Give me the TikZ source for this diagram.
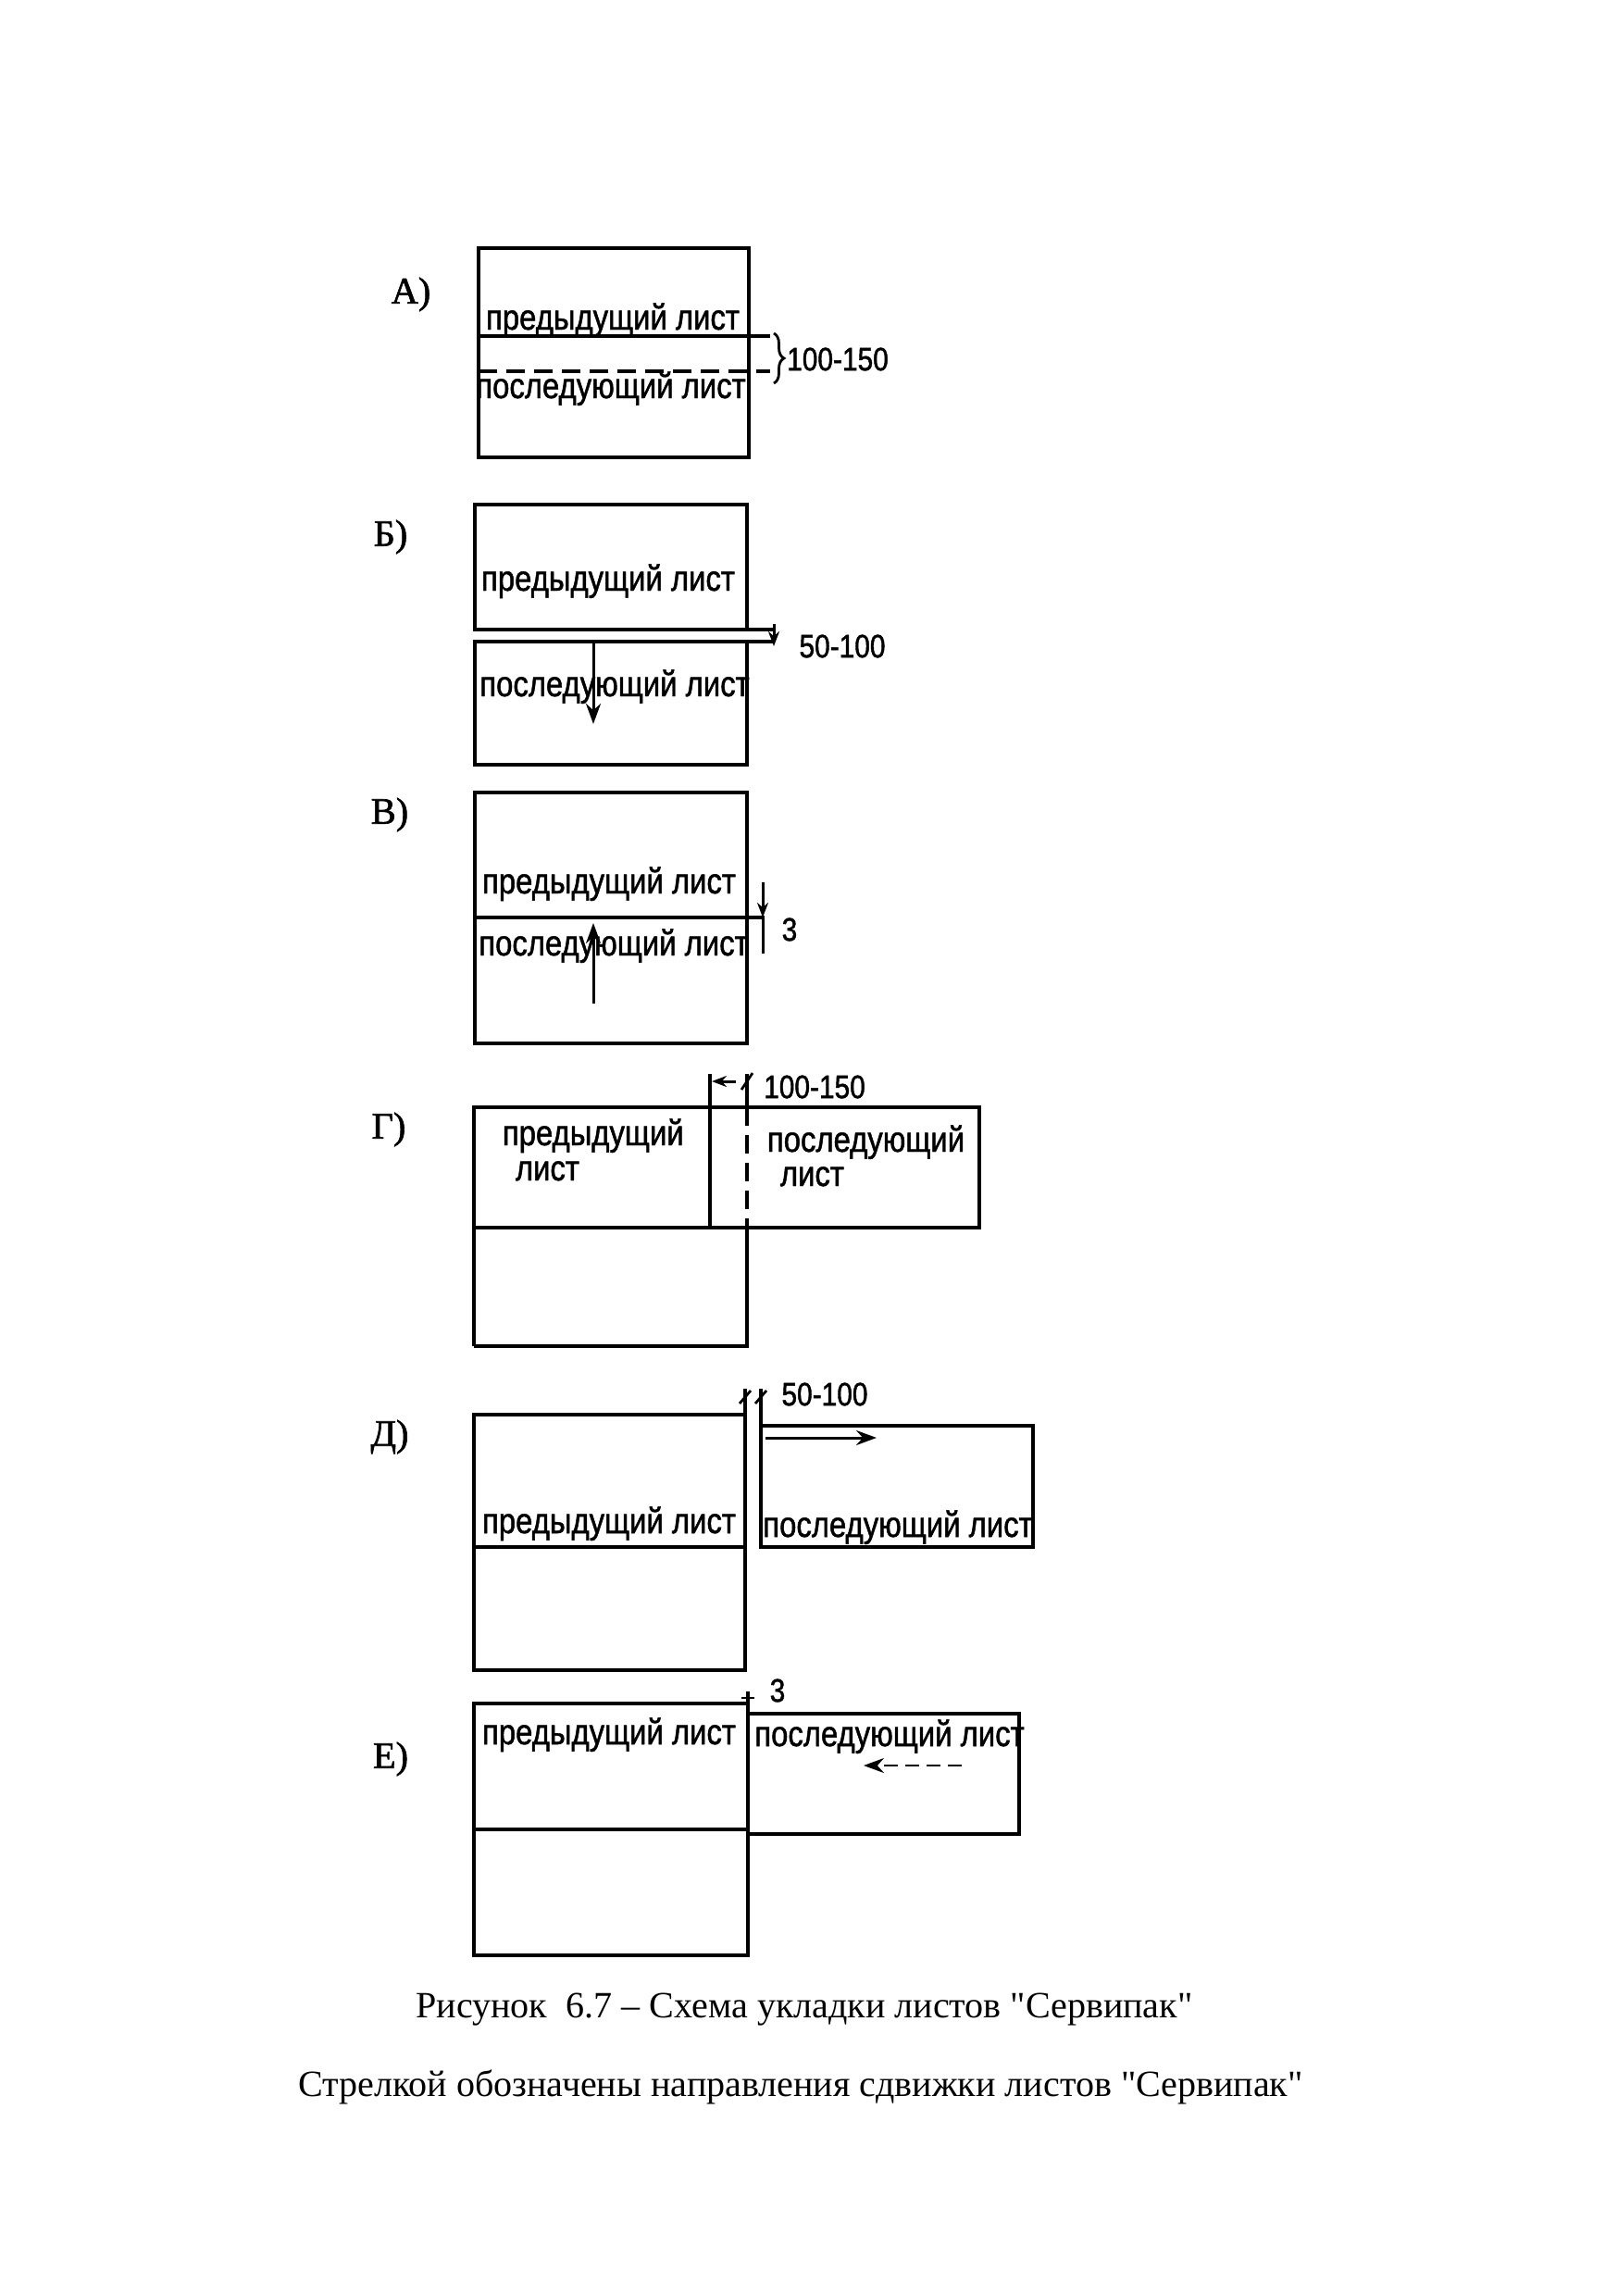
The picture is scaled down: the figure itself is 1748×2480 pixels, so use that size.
\documentclass[tikz,border=0pt]{standalone}
\usepackage{fontspec}
\setmainfont{Liberation Serif}[Ligatures=TeXOff]
\newfontfamily\lblfont[FakeStretch=0.85,FakeBold=1.2]{Liberation Sans}
\newfontfamily\panelfont[FakeBold=1.5]{Liberation Serif}
\usetikzlibrary{arrows.meta,decorations.pathreplacing}
\begin{document}
\begin{tikzpicture}[x=0.1mm,y=-0.1mm,line width=0.38mm,
  sheettext/.style={font=\lblfont\fontsize{11}{13}\selectfont,inner sep=0pt},
  dimtext/.style={font=\lblfont\fontsize{10}{12}\selectfont,inner sep=0pt},
  panellabel/.style={font=\panelfont\fontsize{11.5}{13}\selectfont,inner sep=0pt},
  captiontext/.style={font=\fontsize{11.4}{14}\selectfont,inner sep=0pt},
  dashline/.style={dash pattern=on 2mm off 1mm},
  shiftarrow/.style={line width=0.3mm,-{Stealth[length=2.2mm,width=1.6mm]}},
  dimarrow/.style={line width=0.3mm,-{Stealth[length=1.6mm,width=1.2mm]}}]
\fill[white] (0,0) rectangle (1748,2480);
\useasboundingbox (0,0) rectangle (1748,2480);

% ---------- A ----------
\node[panellabel] (la) at (444,318) {А)};
\draw (517,268) rectangle (809,494);
\draw (517,363) -- (832,363);
\draw[dashline] (517,401) -- (832,401);
\draw[line width=0.28mm,decorate,decoration={brace,amplitude=1.1mm}] (836,360) -- (836,414);
\node[sheettext,anchor=base] (a1) at (662,356) {предыдущий лист};
\node[sheettext,anchor=base] (a2) at (660,430) {последующий лист};
\node[dimtext] (ad) at (905,388) {100-150};

% ---------- Б ----------
\node[panellabel] (lb) at (422,580) {Б)};
\draw (513,545) rectangle (807,680);
\draw (513,693) rectangle (807,826);
\draw (807,680) -- (836,680);
\draw (807,693) -- (836,693);
\coordinate (bd1) at (836,674);
\coordinate (bd2) at (836,698);
\draw[dimarrow] (bd1) -- (bd2);
\node[sheettext,anchor=base] (b1) at (657,638) {предыдущий лист};
\node[sheettext,anchor=base] (b2) at (664,752) {последующий лист};
\node[dimtext] (bd) at (910,698) {50-100};
\coordinate (bs1) at (641,693);
\coordinate (bs2) at (641,782);
\draw[shiftarrow] (bs1) -- (bs2);

% ---------- В ----------
\node[panellabel] (lv) at (421,880) {В)};
\draw (513,856) rectangle (807,1127);
\draw (513,991) -- (826,991);
\coordinate (vd1) at (824,953);
\coordinate (vd2) at (824,1030);
\coordinate (vd3) at (824,991);
\draw[line width=0.3mm] (vd3) -- (vd2);
\draw[dimarrow] (vd1) -- (vd3);
\node[sheettext,anchor=base] (v1) at (658,965) {предыдущий лист};
\node[sheettext,anchor=base] (v2) at (663,1032) {последующий лист};
\node[dimtext] (vd) at (853,1004) {3};
\coordinate (vs1) at (641,1084);
\coordinate (vs2) at (641,997);
\draw[shiftarrow] (vs1) -- (vs2);

% ---------- Г ----------
\node[panellabel] (lg) at (420,1220) {Г)};
\draw (512,1454) -- (512,1196) -- (1058,1196) -- (1058,1326) -- (512,1326);
\draw (807,1326) -- (807,1454) -- (512,1454);
\draw (767,1160) -- (767,1326);
\draw (807,1160) -- (807,1196);
\draw[dashline] (807,1196) -- (807,1326);
\coordinate (gd1) at (795,1168);
\coordinate (gd2) at (769,1168);
\draw[dimarrow] (gd1) -- (gd2);
\draw[line width=0.28mm] (801,1177) -- (813,1159);
\node[sheettext,anchor=base west] (g1) at (541,1237) {предыдущий};
\node[sheettext,anchor=base west] (g2) at (555,1275) {лист};
\node[sheettext,anchor=base west] (g3) at (827,1244) {последующий};
\node[sheettext,anchor=base west] (g4) at (841,1281) {лист};
\node[dimtext] (gd) at (880,1174) {100-150};

% ---------- Д ----------
\node[panellabel] (ld) at (421,1552) {Д)};
\draw (512,1528) rectangle (805,1804);
\draw (512,1671) -- (805,1671);
\draw (822,1540) rectangle (1116,1671);
\draw (805,1500) -- (805,1528);
\draw (822,1500) -- (822,1540);
\draw[line width=0.28mm] (799,1516) -- (811,1502);
\draw[line width=0.28mm] (816,1516) -- (828,1502);
\node[sheettext,anchor=base] (d1) at (658,1656) {предыдущий лист};
\node[sheettext,anchor=base] (d2) at (970,1660) {последующий лист};
\node[dimtext] (dd) at (891,1506) {50-100};
\coordinate (ds1) at (827,1553);
\coordinate (ds2) at (947,1553);
\draw[shiftarrow] (ds1) -- (ds2);

% ---------- Е ----------
\node[panellabel] (le) at (422,1900) {Е)};
\draw (512,1840) rectangle (808,2112);
\draw (512,1976) -- (808,1976);
\draw (808,1851) rectangle (1101,1981);
\draw (808,1827) -- (808,1851);
\draw[line width=0.28mm] (801,1834) -- (815,1834);
\node[sheettext,anchor=base] (e1) at (658,1884) {предыдущий лист};
\node[sheettext,anchor=base] (e2) at (961,1886) {последующий лист};
\node[dimtext] (ed) at (840,1826) {3};
\coordinate (es1) at (1039,1907);
\coordinate (es2) at (933,1907);
\draw[shiftarrow,line width=0.22mm,dash pattern=on 1.5mm off 0.8mm] (es1) -- (es2);

% ---------- captions ----------
\node[captiontext] (cap1) at (869,2171) {Рисунок\ \ 6.7 – Схема укладки листов "Сервипак"};
\node[captiontext] (cap2) at (865,2254) {Стрелкой обозначены направления сдвижки листов "Сервипак"};
\end{tikzpicture}
\end{document}
